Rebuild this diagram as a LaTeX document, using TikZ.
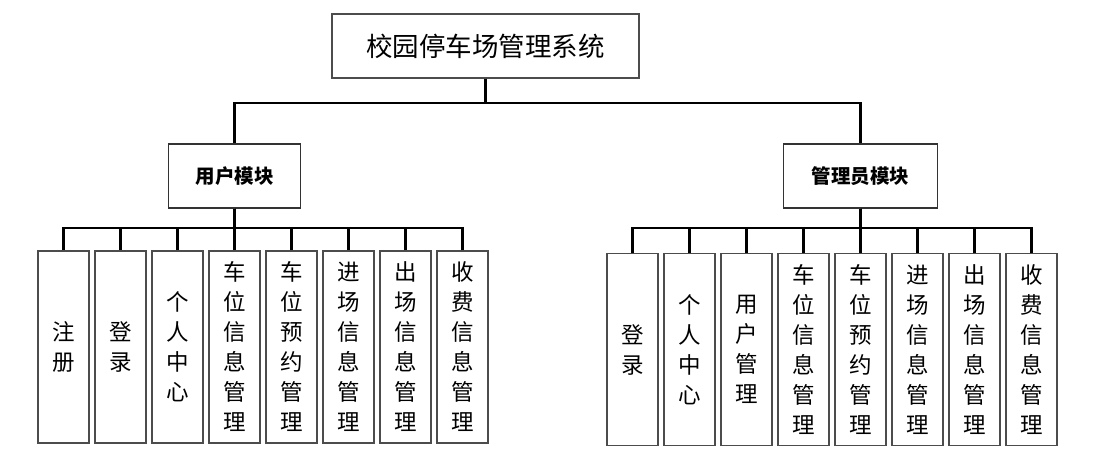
\documentclass[tikz,border=0pt]{standalone}
\usepackage{fontspec}
\setmainfont{Noto Sans CJK SC}
\usetikzlibrary{calc}
\tikzset{
  topbox/.style={draw=black!70, line width=1.3pt, fill=white, minimum width=307pt, minimum height=64pt, inner sep=0pt, font=\fontsize{26.5}{30}\selectfont},
  modbox/.style={draw=black!80, line width=1.3pt, fill=white, minimum height=64pt, inner sep=0pt, font=\bfseries\fontsize{19.5}{24}\selectfont},
  leafbox/.style={draw=black!70, line width=1.3pt, fill=white, minimum width=51pt, minimum height=192pt, inner sep=0pt, align=center, font=\fontsize{22.5}{30}\selectfont},
  link/.style={line width=2.2pt}
}

\begin{document}
\begin{tikzpicture}[x=1pt,y=-1pt]
            \useasboundingbox (0,0) rectangle (1097,471);
            % top and modules
            \node[topbox] (sys) at (485.5,46) {校园停车场管理系统};
            \node[modbox, minimum width=132pt] (umod) at (234.5,176) {用户模块};
            \node[modbox, minimum width=154pt] (amod) at (860.5,176) {管理员模块};
            \draw[link] (sys.south) -- ++(0,24) -| (umod.north);
            \draw[link] (sys.south) -- ++(0,24) -| (amod.north);
            % user leaves
            \foreach \t [count=\i] in {{注\\册},{登\\录},{个\\人\\中\\心},{车\\位\\信\\息\\管\\理},{车\\位\\预\\约\\管\\理},{进\\场\\信\\息\\管\\理},{出\\场\\信\\息\\管\\理},{收\\费\\信\\息\\管\\理}}{
                \node[leafbox] (u\i) at (6.5+57*\i,347) {\t};
                \draw[link] (umod.south) -- ++(0,19) -| (u\i.north);
            }
            % admin leaves
            \foreach \t [count=\i] in {{登\\录},{个\\人\\中\\心},{用\\户\\管\\理},{车\\位\\信\\息\\管\\理},{车\\位\\预\\约\\管\\理},{进\\场\\信\\息\\管\\理},{出\\场\\信\\息\\管\\理},{收\\费\\信\\息\\管\\理}}{
                \node[leafbox] (a\i) at (575.5+57*\i,349.5) {\t};
                \draw[link] (amod.south) -- ++(0,19) -| (a\i.north);
            }
\end{tikzpicture}
\end{document}
